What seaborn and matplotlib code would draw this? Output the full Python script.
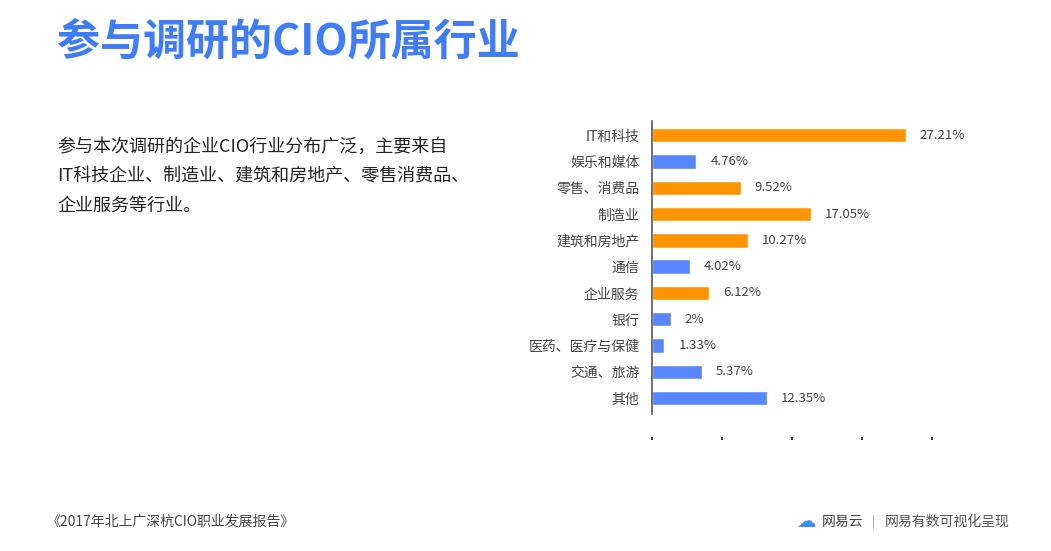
import matplotlib
matplotlib.use("Agg")
import matplotlib.pyplot as plt
import seaborn as sns
import pandas as pd

# data
industries = ["IT和科技", "娱乐和媒体", "零售、消费品", "制造业", "建筑和房地产", "通信",
              "企业服务", "银行", "医药、医疗与保健", "交通、旅游", "其他"]
shares = [27.21, 4.76, 9.52, 17.05, 10.27, 4.02, 6.12, 2, 1.33, 5.37, 12.35]
labels = ["27.21%", "4.76%", "9.52%", "17.05%", "10.27%", "4.02%", "6.12%", "2%",
          "1.33%", "5.37%", "12.35%"]
highlight = ["hi", "lo", "hi", "hi", "hi", "lo", "hi", "lo", "lo", "lo", "lo"]
x_ticks = [0, 7.5, 15, 22.5, 30]

ORANGE = "#FF9402"
BLUE = "#5886FD"
TITLE_BLUE = "#3F7CF9"

sns.set_theme(style="white")
plt.rcParams["font.family"] = ["Noto Sans CJK SC", "DejaVu Sans"]

df = pd.DataFrame({"industry": industries, "share": shares, "group": highlight})

W, H = 1051, 551
fig = plt.figure(figsize=(W / 100, H / 100), dpi=100)

# axes placed in pixel coords: x 652..932, y 122..437
ax = fig.add_axes([652 / W, 1 - 437 / H, 280 / W, 315 / H])
sns.barplot(data=df, x="share", y="industry", hue="group",
            palette={"hi": ORANGE, "lo": BLUE}, width=0.55, legend=False,
            dodge=False, ax=ax, saturation=1)

ax.set_xlim(0, 30)
ax.set_ylim(11.48, -0.5)
ax.set_xlabel("")
ax.set_ylabel("")
ax.set_xticks(x_ticks)
ax.set_xticklabels([])
ax.tick_params(axis="x", bottom=True, length=2, width=1.5, color="#333333",
               direction="out", pad=0)
ax.tick_params(axis="y", length=0, pad=9, labelsize=10, labelcolor="#444444")
for s in ["top", "right", "bottom"]:
    ax.spines[s].set_visible(False)
ax.spines["left"].set_color("#555555")
ax.spines["left"].set_linewidth(1.2)
ax.spines["left"].set_bounds(-0.55, 10.6)
ax.patch.set_alpha(0)

for i, (v, lab) in enumerate(zip(shares, labels)):
    ax.annotate(lab, (v, i), xytext=(10, 0), textcoords="offset points",
                va="center", ha="left", fontsize=9.5, color="#444444")

# title
fig.text(57 / W, 1 - 41 / H, "参与调研的CIO所属行业", fontsize=31, color=TITLE_BLUE,
         fontweight="bold", va="center", ha="left")

# description paragraph
para = ["参与本次调研的企业CIO行业分布广泛，主要来自",
        "IT科技企业、制造业、建筑和房地产、零售消费品、",
        "企业服务等行业。"]
for k, line in enumerate(para):
    fig.text(57 / W, 1 - (147 + 29.5 * k) / H, line, fontsize=13, color="#222222",
             va="center", ha="left")

# footer
fig.text(47 / W, 1 - 522 / H, "《2017年北上广深杭CIO职业发展报告》", fontsize=10,
         color="#444444", va="center", ha="left")
fig.text(797 / W, 1 - 521 / H, "☁", fontsize=14, color="#3F8EF5", va="center",
         ha="left", family=["DejaVu Sans"])
fig.text(822 / W, 1 - 522 / H, "网易云", fontsize=10, color="#444444",
         va="center", ha="left")
fig.text(872 / W, 1 - 522 / H, "|", fontsize=9, color="#999999", va="center", ha="left")
fig.text(885 / W, 1 - 522 / H, "网易有数可视化呈现", fontsize=10, color="#555555",
         va="center", ha="left")

fig.savefig("out.png", dpi=100)
